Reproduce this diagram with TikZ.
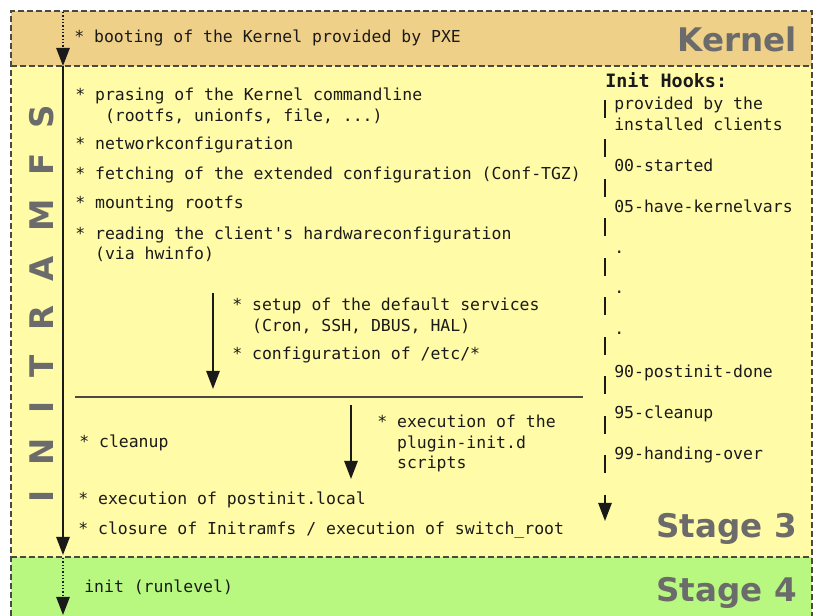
\documentclass[tikz,border=0pt]{standalone}
\usepackage{fontspec}
\setmainfont{DejaVu Sans}
\setmonofont{DejaVu Sans Mono}
\usetikzlibrary{arrows.meta}

\definecolor{kernelfill}{HTML}{EFD088}
\definecolor{ramfill}{HTML}{FFFBA6}
\definecolor{stagefill}{HTML}{B9F880}
\definecolor{framecol}{HTML}{4A4A42}
\definecolor{titlegray}{HTML}{6B6B6B}
\definecolor{inkcol}{HTML}{1A1A1A}

\begin{document}
\begin{tikzpicture}[x=0.75pt,y=-0.75pt,
  txt/.style={font=\ttfamily\fontsize{12.35}{15.4}\selectfont, text=inkcol,
    inner sep=0pt, anchor=base west, align=left},
  hookhead/.style={font=\ttfamily\bfseries\fontsize{13.8}{16}\selectfont, text=inkcol,
    inner sep=0pt, anchor=base west},
  title/.style={font=\bfseries\fontsize{24.4}{28}\selectfont, text=titlegray,
    inner sep=0pt, anchor=base east},
  border/.style={draw=framecol, line width=0.9pt, dash pattern=on 4.5pt off 2.25pt},
  flow/.style={draw=inkcol, line width=1.2pt, -{Triangle[length=13.5pt,width=10pt]}},
  dottedflow/.style={flow, dash pattern=on 0.9pt off 1.6pt},
  hookflow/.style={flow, dash pattern=on 13.5pt off 16.1pt},
  separator/.style={draw=framecol, line width=1.1pt}
]
\useasboundingbox (0,0) rectangle (815,616);

% stage bands
\fill[kernelfill] (11,11) rectangle (812,66);
\fill[ramfill] (11,66) rectangle (812,557);
\fill[stagefill] (11,557) rectangle (812,616);

% dashed frame and band borders
\draw[border] (11,616) -- (11,11) -- (812,11) -- (812,616);
\draw[border] (11,66) -- (812,66);
\draw[border] (11,557) -- (812,557);

% band titles
\node[title] (kerneltitle) at (797,52) {Kernel};
\node[title] (stage3title) at (797,538) {Stage 3};
\node[title] (stage4title) at (797,602) {Stage 4};
\node[title, anchor=base, rotate=90] (ramtitle) at (53,303.5)
  {I\hskip18.3pt N\hskip18.3pt I\hskip18.3pt T\hskip18.3pt R\hskip18.3pt A\hskip18.3pt M\hskip18.3pt F\hskip18.3pt S};

% main boot flow
\coordinate (flowtop) at (63,12);
\coordinate (kernelend) at (63,66);
\coordinate (ramend) at (63,555);
\coordinate (initstart) at (63,558);
\coordinate (flowbottom) at (63,615);
\draw[dottedflow] (flowtop) -- (kernelend);
\draw[flow] (kernelend) -- (ramend);
\draw[dottedflow] (initstart) -- (flowbottom);

% kernel stage
\node[txt] (boot) at (74,43) {* booting of the Kernel provided by PXE};

% initramfs stage (multi-line nodes sit on their last baseline)
\node[txt] (parse) at (75,121.5) {* prasing of the Kernel commandline\\\hphantom{*~~}(rootfs, unionfs, file, ...)};
\node[txt] (net) at (75,150) {* networkconfiguration};
\node[txt] (fetch) at (75,180) {* fetching of the extended configuration (Conf-TGZ)};
\node[txt] (mount) at (75,209) {* mounting rootfs};
\node[txt] (hw) at (75,260) {* reading the client's hardwareconfiguration\\\hphantom{*~}(via hwinfo)};

\coordinate (svctop) at (213,293);
\coordinate (svcend) at (213,389);
\draw[flow] (svctop) -- (svcend);
\node[txt] (svc) at (232,331.5) {* setup of the default services\\\hphantom{*~}(Cron, SSH, DBUS, HAL)};
\node[txt] (etc) at (232,360) {* configuration of /etc/*};

\coordinate (sepleft) at (75,397);
\coordinate (sepright) at (583,397);
\draw[separator] (sepleft) -- (sepright);

\coordinate (plugtop) at (351,405);
\coordinate (plugend) at (351,479);
\draw[flow] (plugtop) -- (plugend);
\node[txt] (plugin) at (377,469) {* execution of the\\\hphantom{*~}plugin-init.d\\\hphantom{*~}scripts};
\node[txt] (cleanup) at (79,448) {* cleanup};
\node[txt] (postinit) at (78,505) {* execution of postinit.local};
\node[txt] (closure) at (78,535) {* closure of Initramfs / execution of switch\_root};

% init hooks column
\node[hookhead] (hooks) at (605,88) {Init Hooks:};
\node[txt] (provided) at (614,130.5) {provided by the\\installed clients};
\node[txt] (h00) at (614,172) {00-started};
\node[txt] (h05) at (614,213) {05-have-kernelvars};
\node[txt] (dotA) at (614,254) {.};
\node[txt] (dotB) at (614,294) {.};
\node[txt] (dotC) at (614,335) {.};
\node[txt] (h90) at (614,378) {90-postinit-done};
\node[txt] (h95) at (614,419) {95-cleanup};
\node[txt] (h99) at (614,460) {99-handing-over};
\coordinate (hooktop) at (605,100);
\coordinate (hookend) at (605,521);
\draw[hookflow] (hooktop) -- (hookend);

% stage 4
\node[txt] (initrl) at (84,593) {init (runlevel)};
\end{tikzpicture}
\end{document}
